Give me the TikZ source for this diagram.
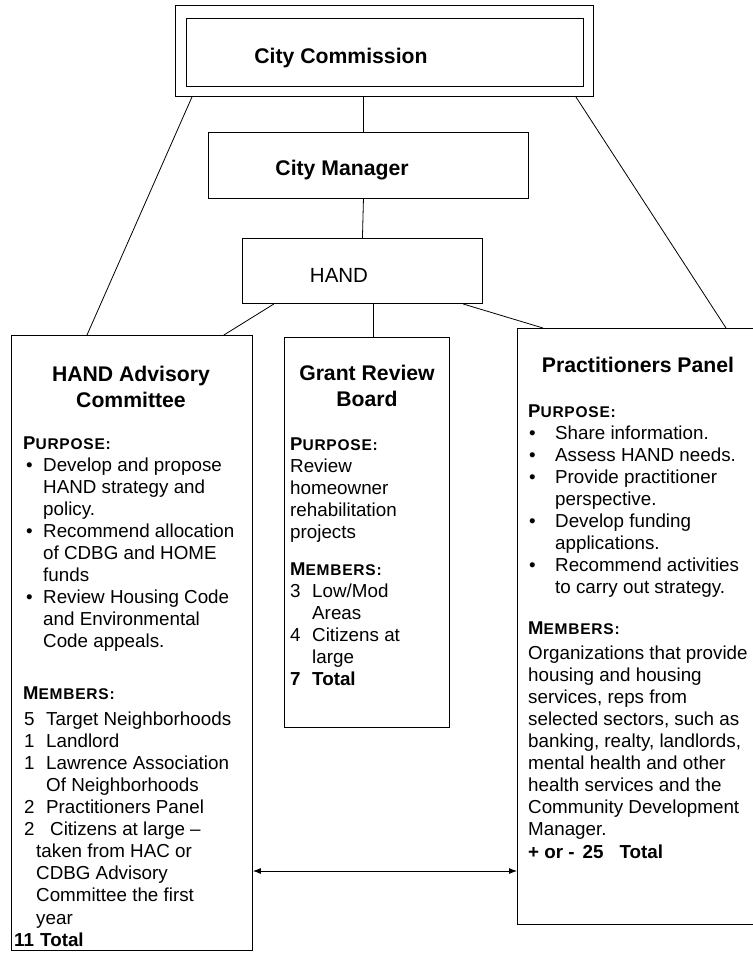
\documentclass[tikz,border=0pt]{standalone}
\usepackage{fontspec}
\setmainfont{Liberation Sans}
\usetikzlibrary{arrows.meta}
\newcommand{\hd}[2]{\textbf{{\fontsize{18.5}{22.1}\selectfont #1}{\fontsize{15.5}{22.1}\selectfont\addfontfeatures{LetterSpace=5}#2}}}
\newcommand{\bul}[2]{\makebox[#2][l]{\hspace*{#1}\textbullet}}
\tikzset{
  box/.style={draw, line width=0.9pt, inner sep=0pt, anchor=north west},
  body/.style={inner sep=0pt, anchor=base west, font=\fontsize{18.8}{22.1}\selectfont},
  ttl/.style={inner sep=0pt, anchor=base, font=\fontsize{21.2}{26.5}\selectfont\bfseries},
  conn/.style={line width=0.8pt},
  dbl/.style={arrows={Latex[length=8pt,width=6pt]-Latex[length=8pt,width=6pt]}}
}
\begin{document}
\begin{tikzpicture}[x=1pt,y=-1pt]
\useasboundingbox (0,0) rectangle (752,955);
% boxes
\node[box, minimum width=418pt, minimum height=91pt] (cco) at (175,5) {};
\node[box, minimum width=397pt, minimum height=68pt] (cci) at (186,18) {};
\node[box, minimum width=320pt, minimum height=66pt] (cm) at (208,132) {};
\node[box, minimum width=240pt, minimum height=65pt] (hand) at (242,238) {};
\node[box, minimum width=241pt, minimum height=615pt] (hac) at (11,335) {};
\node[box, minimum width=165pt, minimum height=390pt] (grb) at (284,337) {};
\node[box, draw=none, minimum width=236pt, minimum height=596pt] (pp) at (517,328) {};
\draw[line width=0.9pt] (pp.north east) -- (pp.north west) -- (pp.south west) -- (pp.south east);
% box titles
\node[ttl] (cctext) at (341,64) {City Commission};
\node[ttl] (cmtext) at (342,175) {City Manager};
\node[ttl, font=\fontsize{20.5}{26.5}\selectfont] (handtext) at (339,282) {HAND};
\node[ttl] (hactitle) at (131,381) {\begin{tabular}[t]{@{}c@{}}HAND Advisory\\Committee\end{tabular}};
\node[ttl] (grbtitle) at (367,380) {\begin{tabular}[t]{@{}c@{}}Grant Review\\Board\end{tabular}};
\node[ttl] (pptitle) at (638,372) {Practitioners Panel};
% HAND Advisory Committee
\node[body] (hacpurp) at (23,449) {\begin{tabular}[t]{@{}l@{}}
\hd{P}{URPOSE:}\\
\bul{3pt}{20pt}Develop and propose\\
\hspace*{20pt}HAND strategy and\\
\hspace*{20pt}policy.\\
\bul{3pt}{20pt}Recommend allocation\\
\hspace*{20pt}of CDBG and HOME\\
\hspace*{20pt}funds\\
\bul{3pt}{20pt}Review Housing Code\\
\hspace*{20pt}and Environmental\\
\hspace*{20pt}Code appeals.
\end{tabular}};
\node[body] (hacmem) at (14,699) {\begin{tabular}[t]{@{}l@{}}
\hspace*{9pt}\hd{M}{EMBERS:}\\[4pt]
\hspace*{10pt}\makebox[22pt][l]{5}Target Neighborhoods\\
\hspace*{10pt}\makebox[22pt][l]{1}Landlord\\
\hspace*{10pt}\makebox[22pt][l]{1}Lawrence Association\\
\hspace*{32pt}Of Neighborhoods\\
\hspace*{10pt}\makebox[22pt][l]{2}Practitioners Panel\\
\hspace*{10pt}\makebox[26pt][l]{2}Citizens at large –\\
\hspace*{22pt}taken from HAC or\\
\hspace*{22pt}CDBG Advisory\\
\hspace*{22pt}Committee the first\\
\hspace*{22pt}year\\
\textbf{\makebox[26pt][l]{11}Total}
\end{tabular}};
% Grant Review Board
\node[body] (grbpurp) at (290,450) {\begin{tabular}[t]{@{}l@{}}
\hd{P}{URPOSE:}\\
Review\\
homeowner\\
rehabilitation\\
projects
\end{tabular}};
\node[body] (grbmem) at (290,575) {\begin{tabular}[t]{@{}l@{}}
\hd{M}{EMBERS:}\\
\makebox[22pt][l]{3}Low/Mod\\
\hspace*{22pt}Areas\\
\makebox[22pt][l]{4}Citizens at\\
\hspace*{22pt}large\\
\textbf{\makebox[22pt][l]{7}Total}
\end{tabular}};
% Practitioners Panel
\node[body] (pppurp) at (528,417) {\begin{tabular}[t]{@{}l@{}}
\hd{P}{URPOSE:}\\
\bul{1pt}{27pt}Share information.\\
\bul{1pt}{27pt}Assess HAND needs.\\
\bul{1pt}{27pt}Provide practitioner\\
\hspace*{27pt}perspective.\\
\bul{1pt}{27pt}Develop funding\\
\hspace*{27pt}applications.\\
\bul{1pt}{27pt}Recommend activities\\
\hspace*{27pt}to carry out strategy.
\end{tabular}};
\node[body] (ppmem) at (528,634) {\begin{tabular}[t]{@{}l@{}}
\hd{M}{EMBERS:}\\[3pt]
Organizations that provide\\
housing and housing\\
services, reps from\\
selected sectors, such as\\
banking, realty, landlords,\\
mental health and other\\
health services and the\\
Community Development\\
Manager.\\
\textbf{+ or -\hspace*{8pt}25\hspace*{16pt}Total}
\end{tabular}};
% connectors
\draw[conn] ([xshift=17pt]cco.south west) -- ([xshift=76pt]hac.north west);
\draw[conn] ([xshift=-18pt]cco.south east) -- ([xshift=209pt]pp.north west);
\draw[conn] ([xshift=-21pt]cco.south) -- ([xshift=-5pt]cm.north);
\draw[conn] ([xshift=-5pt]cm.south) -- (hand.north);
\draw[conn] ([xshift=32pt]hand.south west) -- ([xshift=-29pt]hac.north east);
\draw[conn] ([xshift=11pt]hand.south) -- ([xshift=6.5pt]grb.north);
\draw[conn] ([xshift=-20pt]hand.south east) -- ([xshift=26pt]pp.north west);
\coordinate (ay) at (384,871);
\draw[conn, dbl] (hac.east |- ay) -- (pp.west |- ay);
\end{tikzpicture}
\end{document}
